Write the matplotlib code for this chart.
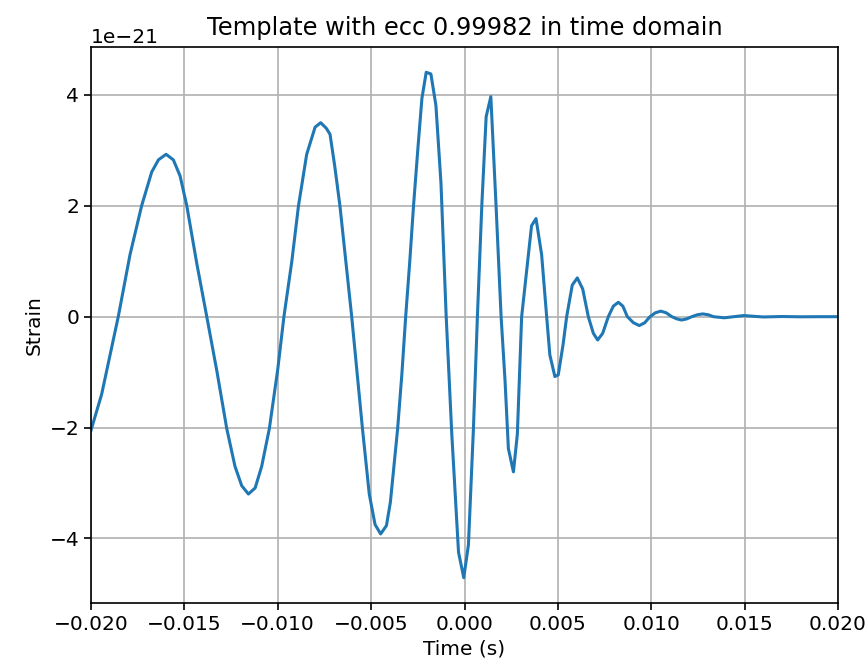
import numpy as np
import matplotlib
matplotlib.use("Agg")
import matplotlib.pyplot as plt

# waveform samples (time in s, strain in units of 1e-21)
time_s = [
    -0.02000, -0.01943, -0.01854, -0.01791, -0.01729, -0.01675, -0.01639, -0.01598,
    -0.01559, -0.01523, -0.01487, -0.01433, -0.01380, -0.01325, -0.01273, -0.01229,
    -0.01193, -0.01157, -0.01121, -0.01086, -0.01045, -0.01000, -0.00967, -0.00925,
    -0.00889, -0.00845, -0.00800, -0.00770, -0.00740, -0.00720, -0.00695, -0.00667,
    -0.00604, -0.00547, -0.00510, -0.00479, -0.00449, -0.00418, -0.00397, -0.00358,
    -0.00335, -0.00315, -0.00293, -0.00273, -0.00249, -0.00228, -0.00205, -0.00180,
    -0.00153, -0.00126, -0.00098, -0.00068, -0.00032, -0.00004, 0.00021, 0.00048,
    0.00069, 0.00093, 0.00116, 0.00141, 0.00169, 0.00196, 0.00217, 0.00235,
    0.00262, 0.00283, 0.00306, 0.00359, 0.00383, 0.00413, 0.00440, 0.00457,
    0.00484, 0.00502, 0.00528, 0.00547, 0.00577, 0.00604, 0.00633, 0.00663,
    0.00690, 0.00713, 0.00740, 0.00770, 0.00797, 0.00824, 0.00848, 0.00872,
    0.00905, 0.00936, 0.00965, 0.00993, 0.01022, 0.01051, 0.01080, 0.01110,
    0.01137, 0.01163, 0.01190, 0.01217, 0.01247, 0.01276, 0.01305, 0.01333,
    0.01391, 0.01495, 0.01600, 0.01700, 0.01800, 0.01900, 0.02000,
]
strain_e21 = [
    -2.05, -1.40, 0.00, 1.12, 2.00, 2.61, 2.83, 2.93,
    2.83, 2.54, 2.00, 0.95, 0.00, -1.00, -2.02, -2.70,
    -3.05, -3.20, -3.09, -2.70, -2.02, -0.95, 0.00, 0.99,
    2.00, 2.93, 3.42, 3.50, 3.40, 3.29, 2.72, 2.00,
    0.00, -2.00, -3.20, -3.75, -3.92, -3.77, -3.35, -2.02,
    -1.02, 0.00, 1.00, 2.00, 3.06, 3.94, 4.41, 4.38,
    3.81, 2.41, 0.00, -2.12, -4.25, -4.71, -4.12, -2.00,
    0.00, 2.03, 3.61, 3.97, 2.00, 0.00, -1.15, -2.38,
    -2.80, -2.12, 0.00, 1.64, 1.77, 1.12, 0.00, -0.69,
    -1.08, -1.05, -0.50, 0.00, 0.57, 0.70, 0.50, 0.00,
    -0.30, -0.42, -0.30, 0.00, 0.19, 0.26, 0.19, 0.00,
    -0.11, -0.16, -0.11, 0.00, 0.07, 0.10, 0.07, 0.00,
    -0.04, -0.06, -0.04, 0.00, 0.035, 0.05, 0.035, 0.00,
    -0.02, 0.02, -0.005, 0.003, -0.002, 0.0, 0.0,
]

plt.rcParams['font.size'] = 14.5

fig = plt.figure(figsize=(8.68, 6.66), dpi=100)
ax = fig.add_axes([91 / 868, 63 / 666, 747 / 868, 556 / 666])

ax.plot(time_s, np.array(strain_e21) * 1e-21, color='#1f77b4', linewidth=2.2)
ax.set_xlim(-0.02, 0.02)
ax.set_title("Template with ecc 0.99982 in time domain", pad=9)
ax.set_xlabel("Time (s)")
ax.set_ylabel("Strain")
ax.grid(True, linewidth=1.2)
ax.tick_params(length=5, width=1.2)
for s in ax.spines.values():
    s.set_linewidth(1.2)

fig.savefig("out.png", dpi=100)
